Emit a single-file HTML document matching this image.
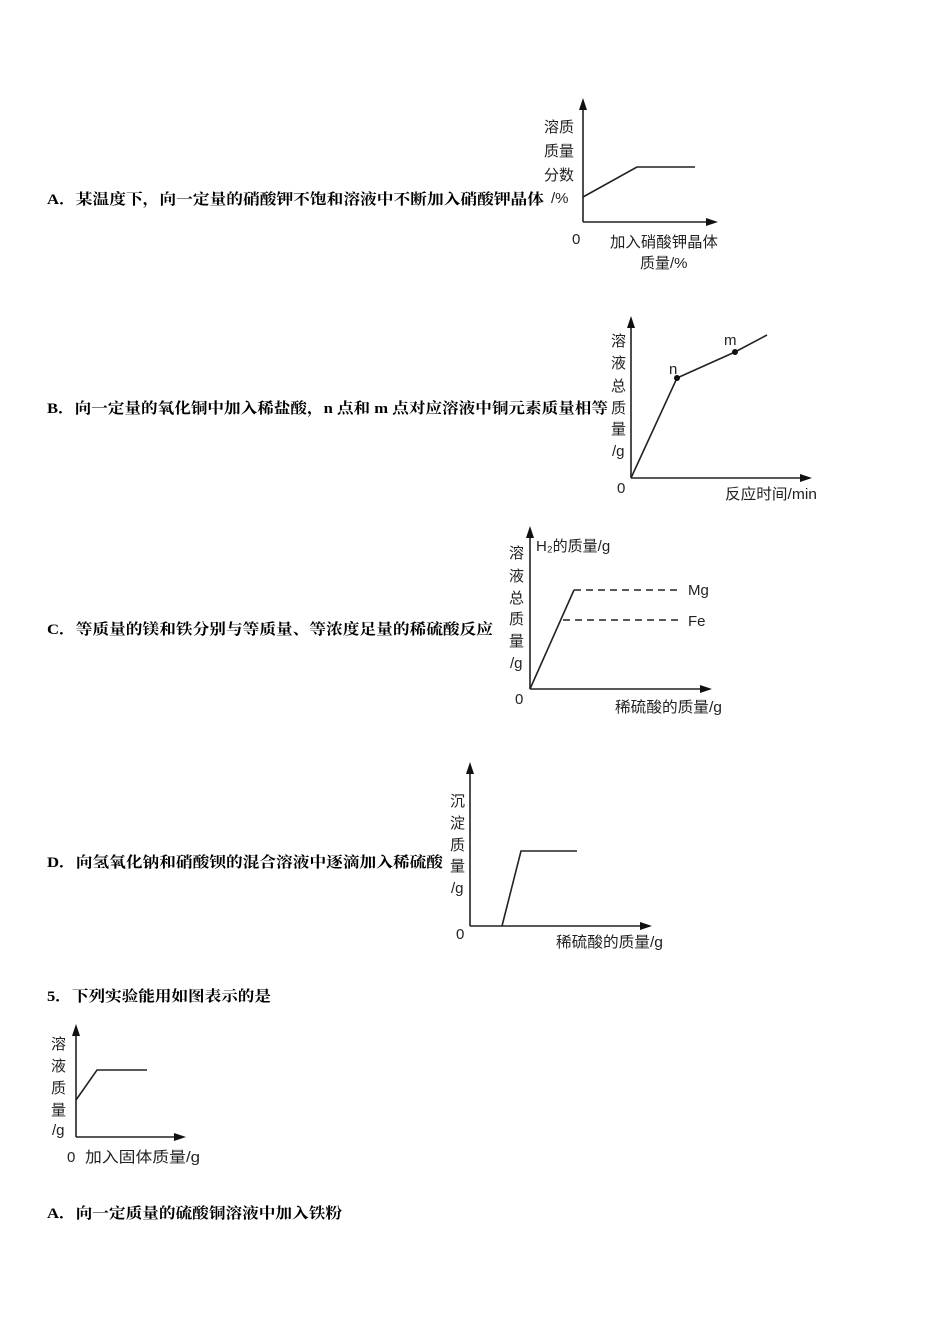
<!DOCTYPE html>
<html><head><meta charset="utf-8"><style>
body{margin:0;background:#fff;}
svg{display:block;}
.q{font-family:"Liberation Serif","Noto Serif CJK SC","Noto Sans CJK SC",serif;font-weight:bold;font-size:15px;fill:#000;}
.l{font-family:"Liberation Sans","Noto Sans CJK SC",sans-serif;font-size:15px;fill:#222;}
.s{font-family:"Liberation Sans","Noto Sans CJK SC",sans-serif;font-size:15px;fill:#222;}
</style></head><body>
<svg width="950" height="1344" xmlns="http://www.w3.org/2000/svg">
<g stroke="#222" stroke-width="1.6" fill="none">
<line x1="583" y1="222" x2="583" y2="104"/><line x1="583" y1="222" x2="712" y2="222"/>
<polyline points="583,197 637,167 695,167"/>
<line x1="631" y1="478" x2="631" y2="322"/><line x1="631" y1="478" x2="806" y2="478"/>
<polyline points="631,478 677,378 735,352 767,335"/>
<line x1="530" y1="689" x2="530" y2="532"/><line x1="530" y1="689" x2="706" y2="689"/>
<line x1="530" y1="689" x2="574" y2="590"/>
<line x1="574" y1="590" x2="680" y2="590" stroke-dasharray="7,5"/>
<line x1="563" y1="620" x2="680" y2="620" stroke-dasharray="7,5"/>
<line x1="470" y1="926" x2="470" y2="768"/><line x1="470" y1="926" x2="646" y2="926"/>
<polyline points="502,926 521,851 577,851"/>
<line x1="76" y1="1137" x2="76" y2="1030"/><line x1="76" y1="1137" x2="180" y2="1137"/>
<polyline points="76,1100 97,1070 147,1070"/>
</g>
<g fill="#111">
<polygon points="583,98 579,110 587,110"/><polygon points="718,222 706,218 706,226"/>
<polygon points="631,316 627,328 635,328"/><polygon points="812,478 800,474 800,482"/>
<polygon points="530,526 526,538 534,538"/><polygon points="712,689 700,685 700,693"/>
<polygon points="470,762 466,774 474,774"/><polygon points="652,926 640,922 640,930"/>
<polygon points="76,1024 72,1036 80,1036"/><polygon points="186,1137 174,1133 174,1141"/>
<circle cx="677" cy="378" r="3"/><circle cx="735" cy="352" r="3"/>
</g>
<text class="q" x="47" y="204" textLength="497" lengthAdjust="spacingAndGlyphs">A．某温度下，向一定量的硝酸钾不饱和溶液中不断加入硝酸钾晶体</text>
<text class="q" x="47" y="413" textLength="561" lengthAdjust="spacingAndGlyphs">B．向一定量的氧化铜中加入稀盐酸，n 点和 m 点对应溶液中铜元素质量相等</text>
<text class="q" x="47" y="634" textLength="446" lengthAdjust="spacingAndGlyphs">C．等质量的镁和铁分别与等质量、等浓度足量的稀硫酸反应</text>
<text class="q" x="47" y="867" textLength="396" lengthAdjust="spacingAndGlyphs">D．向氢氧化钠和硝酸钡的混合溶液中逐滴加入稀硫酸</text>
<text class="q" x="47" y="1001" textLength="224" lengthAdjust="spacingAndGlyphs">5．下列实验能用如图表示的是</text>
<text class="q" x="47" y="1218" textLength="295" lengthAdjust="spacingAndGlyphs">A．向一定质量的硫酸铜溶液中加入铁粉</text>
<text class="l" x="544" y="132" font-size="17">溶质</text>
<text class="l" x="544" y="156" font-size="17">质量</text>
<text class="l" x="544" y="180" font-size="17">分数</text>
<text class="s" x="551" y="203">/%</text>
<text class="s" x="572" y="244">0</text>
<text class="s" x="610" y="247" textLength="108" lengthAdjust="spacingAndGlyphs">加入硝酸钾晶体</text>
<text class="s" x="640" y="268">质量/%</text>
<g class="s"><text x="611" y="346">溶</text><text x="611" y="368">液</text><text x="611" y="391">总</text><text x="611" y="413">质</text><text x="611" y="434">量</text><text x="612" y="456">/g</text></g>
<text class="s" x="669" y="374">n</text><text class="s" x="724" y="345">m</text>
<text class="s" x="617" y="493">0</text>
<text class="s" x="725" y="499" textLength="92" lengthAdjust="spacingAndGlyphs">反应时间/min</text>
<g class="s"><text x="509" y="558">溶</text><text x="509" y="581">液</text><text x="509" y="603">总</text><text x="509" y="624">质</text><text x="509" y="646">量</text><text x="510" y="668">/g</text></g>
<text class="s" x="536" y="551">H₂的质量/g</text>
<text class="s" x="688" y="595">Mg</text><text class="s" x="688" y="626">Fe</text>
<text class="s" x="515" y="704">0</text>
<text class="s" x="615" y="712" textLength="107" lengthAdjust="spacingAndGlyphs">稀硫酸的质量/g</text>
<g class="s"><text x="450" y="806">沉</text><text x="450" y="828">淀</text><text x="450" y="850">质</text><text x="450" y="871">量</text><text x="451" y="893">/g</text></g>
<text class="s" x="456" y="939">0</text>
<text class="s" x="556" y="947" textLength="107" lengthAdjust="spacingAndGlyphs">稀硫酸的质量/g</text>
<g class="s" font-size="16"><text x="51" y="1049">溶</text><text x="51" y="1071">液</text><text x="51" y="1093">质</text><text x="51" y="1115">量</text><text x="52" y="1135">/g</text></g>
<text class="s" x="67" y="1162" font-size="15">0</text>
<text class="s" x="85" y="1162" font-size="16" textLength="115" lengthAdjust="spacingAndGlyphs">加入固体质量/g</text>
</svg>
</body></html>
